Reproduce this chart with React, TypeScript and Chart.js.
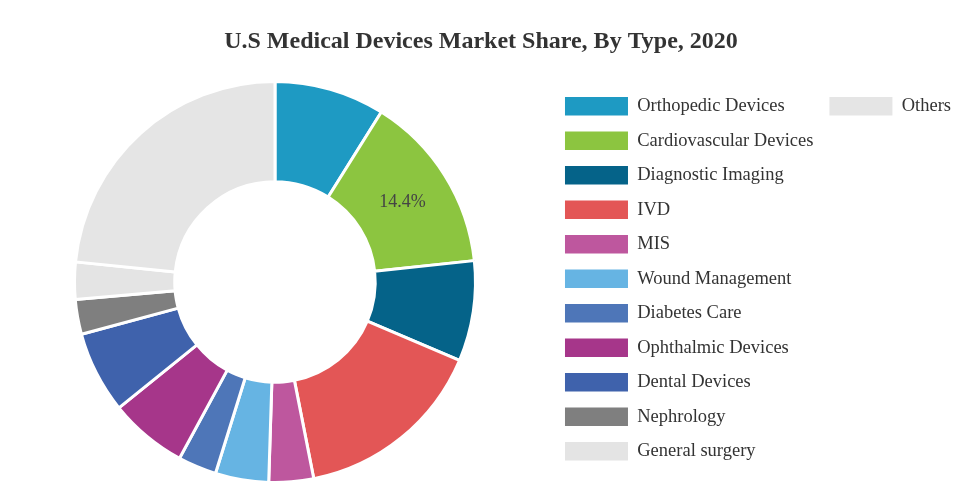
import React, { useEffect, useRef } from "react";
import { Chart, registerables } from "chart.js";

Chart.register(...registerables);

const categories = [
  "Orthopedic Devices",
  "Cardiovascular Devices",
  "Diagnostic Imaging",
  "IVD",
  "MIS",
  "Wound Management",
  "Diabetes Care",
  "Ophthalmic Devices",
  "Dental Devices",
  "Nephrology",
  "General surgery",
  "Others",
];

const shares = [8.9, 14.4, 8.1, 15.5, 3.6, 4.3, 3.1, 6.3, 6.6, 2.8, 3.0, 23.4];

const colors = [
  "#1E9AC3",
  "#8CC540",
  "#056389",
  "#E35656",
  "#BE579E",
  "#66B4E3",
  "#4E76B8",
  "#A6368A",
  "#3F62AC",
  "#7F7F7F",
  "#E4E4E4",
  "#E5E5E5",
];

const labeledSlices = ["Cardiovascular Devices"];

const FONT = "'Liberation Serif', 'Times New Roman', serif";

export default function App() {
  const ref = useRef<HTMLCanvasElement | null>(null);

  useEffect(() => {
    if (!ref.current) return;

    const sliceLabels = {
      id: "sliceLabels",
      afterDatasetsDraw(chart: any) {
        const meta = chart.getDatasetMeta(0);
        const ctx = chart.ctx;
        ctx.save();
        ctx.font = `18px ${FONT}`;
        ctx.fillStyle = "#444444";
        ctx.textAlign = "center";
        ctx.textBaseline = "middle";
        categories.forEach((c, i) => {
          if (!labeledSlices.includes(c)) return;
          const p = meta.data[i].getCenterPoint();
          ctx.fillText(`${shares[i]}%`, p.x, p.y);
        });
        ctx.restore();
      },
    };

    const legendShift = {
      id: "legendShift",
      afterLayout(chart: any) {
        if (chart.legend) {
          chart.legend.top += 1;
          chart.legend.bottom += 1;
        }
      },
    };

    const defaultGen = (Chart as any).overrides.doughnut.plugins.legend.labels.generateLabels;

    const chart = new Chart(ref.current, {
      type: "doughnut",
      data: {
        labels: categories,
        datasets: [
          {
            data: shares,
            backgroundColor: colors,
            borderColor: "#ffffff",
            borderWidth: 3,
            hoverOffset: 0,
          },
        ],
      },
      options: {
        animation: false,
        responsive: true,
        maintainAspectRatio: false,
        cutout: "50%",
        layout: { padding: { left: 1, right: 12, top: 0, bottom: 0 } },
        plugins: {
          title: {
            display: true,
            text: "U.S Medical Devices Market Share, By Type, 2020",
            color: "#333333",
            font: { family: FONT, size: 24, weight: "bold" },
            padding: { top: 27.6, bottom: 23.6 },
          },
          legend: {
            display: true,
            position: "right",
            align: "start",
            fullSize: false,
            labels: {
              boxWidth: 63,
              boxHeight: 18.5,
              padding: 16,
              color: "#333333",
              font: { family: FONT, size: 18.5 },
              generateLabels: (c: any) =>
                defaultGen(c).map((l: any) => ({ ...l, lineWidth: 0, strokeStyle: "rgba(0,0,0,0)" })),
            },
          },
          tooltip: { enabled: false },
        },
      },
      plugins: [sliceLabels, legendShift],
    });

    return () => chart.destroy();
  }, []);

  return (
    <div style={{ position: "absolute", left: 0, top: 0, width: 973, height: 484 }}>
      <canvas ref={ref} />
    </div>
  );
}
